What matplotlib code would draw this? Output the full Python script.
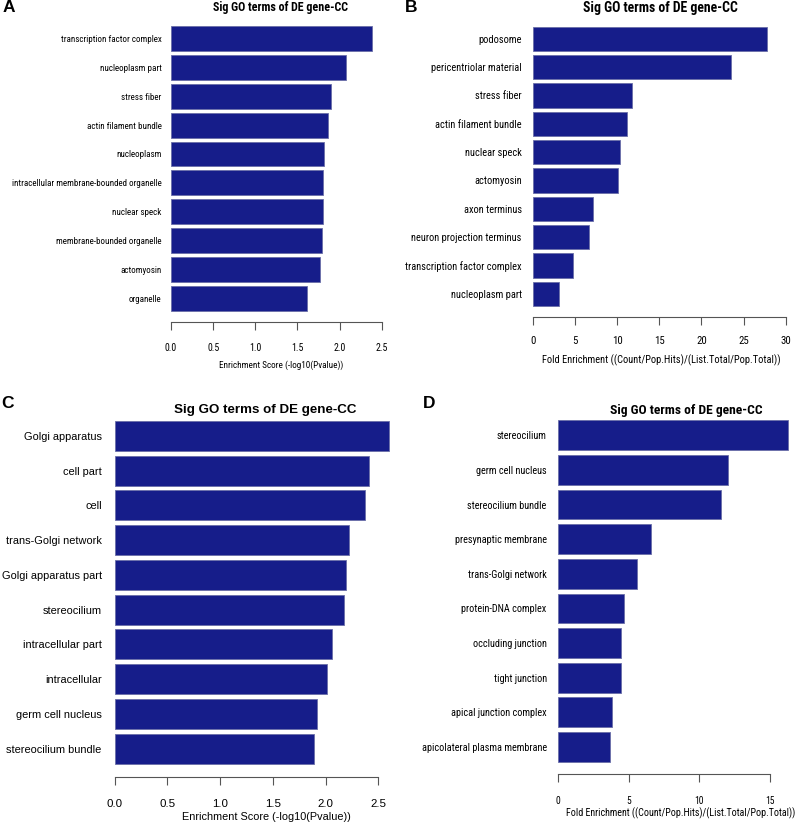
import matplotlib.pyplot as plt
from matplotlib import font_manager as fm

W, H = 800, 823

# Panel A
terms_a = ['transcription factor complex', 'nucleoplasm part', 'stress fiber', 'actin filament bundle',
           'nucleoplasm', 'intracellular membrane-bounded organelle', 'nuclear speck',
           'membrane-bounded organelle', 'actomyosin', 'organelle']
vals_a = [2.38, 2.08, 1.90, 1.86, 1.81, 1.80, 1.80, 1.79, 1.77, 1.61]
ticks_a = [0.0, 0.5, 1.0, 1.5, 2.0, 2.5]

# Panel B
terms_b = ['podosome', 'pericentriolar material', 'stress fiber', 'actin filament bundle', 'nuclear speck',
           'actomyosin', 'axon terminus', 'neuron projection terminus', 'transcription factor complex',
           'nucleoplasm part']
vals_b = [27.75, 23.55, 11.74, 11.15, 10.4, 10.08, 7.12, 6.64, 4.74, 3.08]
ticks_b = [0, 5, 10, 15, 20, 25, 30]

# Panel C
terms_c = ['Golgi apparatus', 'cell part', 'cell', 'trans-Golgi network', 'Golgi apparatus part',
           'stereocilium', 'intracellular part', 'intracellular', 'germ cell nucleus', 'stereocilium bundle']
vals_c = [2.60, 2.41, 2.37, 2.22, 2.19, 2.17, 2.06, 2.01, 1.92, 1.89]
ticks_c = [0.0, 0.5, 1.0, 1.5, 2.0, 2.5]

# Panel D
terms_d = ['stereocilium', 'germ cell nucleus', 'stereocilium bundle', 'presynaptic membrane',
           'trans-Golgi network', 'protein-DNA complex', 'occluding junction', 'tight junction',
           'apical junction complex', 'apicolateral plasma membrane']
vals_d = [16.27, 12.0, 11.51, 6.57, 5.58, 4.65, 4.44, 4.44, 3.78, 3.69]
ticks_d = [0, 5, 10, 15]

title = 'Sig GO terms of DE gene-CC'
xlab_es = 'Enrichment Score (-log10(Pvalue))'
xlab_fe = 'Fold Enrichment ((Count/Pop.Hits)/(List.Total/Pop.Total))'

BAR = '#161d8a'
EDGE = '#6a6fa8'
AXC = '#555555'


def is_bold(f):
    w = f.weight
    if isinstance(w, str):
        return 'bold' in w.lower() or 'black' in w.lower()
    return w >= 600


def find_file(names, bold, stretch=None):
    for nm in names:
        for f in fm.fontManager.ttflist:
            if f.name != nm or f.style != 'normal' or is_bold(f) != bold:
                continue
            if stretch is not None and str(f.stretch) != stretch:
                continue
            return f.fname
    return None


def narrow_file(bold):
    fn = find_file(['Liberation Sans Narrow', 'Roboto Condensed', 'Noto Sans Condensed',
                    'Open Sans Condensed'], bold)
    if fn is None:
        fn = find_file(['Noto Sans', 'Open Sans', 'Roboto'], bold, 'condensed')
    if fn is None:
        fn = find_file(['Liberation Sans'], bold)
    return fn


REG = find_file(['Liberation Sans'], False)
REG_B = find_file(['Liberation Sans'], True)
NAR = narrow_file(False) or REG
NAR_B = narrow_file(True) or REG_B

fig = plt.figure(figsize=(W / 100, H / 100), dpi=100)
renderer = fig.canvas.get_renderer()


def fit(fname, text, target_px):
    # font size whose rendered width matches the reference width
    t = fig.text(0, 0, text, fontproperties=fm.FontProperties(fname=fname, size=10))
    w = t.get_window_extent(renderer).width
    t.remove()
    return fm.FontProperties(fname=fname, size=10 * target_px / w)


def panel(terms, vals, ticks, x0, x1, ycen_first, ycen_last, axis_y, tick_lab_y, xlab_x, xlab_y,
          title_x, title_y, xlabel, f_lab, f_tick, f_title, f_xlab, gap):
    n = len(vals)
    ppu = (x1 - x0) / (ticks[-1] - ticks[0])
    xmax = max(ticks[-1], max(vals)) * 1.01
    right = x0 + xmax * ppu
    pitch = (ycen_last - ycen_first) / (n - 1)
    top = ycen_first - pitch / 2
    bot = ycen_last + pitch / 2
    ax = fig.add_axes([x0 / W, 1 - bot / H, (right - x0) / W, (bot - top) / H])
    pos = list(range(n))
    ax.barh(pos, vals, height=0.86, color=BAR, edgecolor=EDGE, linewidth=0.6)
    ax.set_xlim(0, xmax)
    ax.set_ylim(n - 0.5, -0.5)
    ax.set_yticks(pos)
    ax.set_yticklabels(terms, fontproperties=f_lab)
    ax.tick_params(axis='y', length=0, pad=gap * 0.72)
    for s in ['top', 'right', 'left']:
        ax.spines[s].set_visible(False)
    ax.spines['bottom'].set_position(('outward', (axis_y - bot) * 0.72))
    ax.spines['bottom'].set_bounds(ticks[0], ticks[-1])
    ax.spines['bottom'].set_color(AXC)
    ax.set_xticks(ticks)
    ax.set_xticklabels([('%.1f' % t) if isinstance(t, float) else str(t) for t in ticks],
                       fontproperties=f_tick)
    fs_tick = f_tick.get_size_in_points()
    ax.tick_params(axis='x', length=5.5, color=AXC, width=0.8,
                   pad=(tick_lab_y - axis_y - 5 - fs_tick * 0.7) * 0.72)
    fig.text(title_x / W, 1 - title_y / H, title, ha='center', va='center', fontproperties=f_title)
    fig.text(xlab_x / W, 1 - xlab_y / H, xlabel, ha='center', va='center', fontproperties=f_xlab)
    return ax


panel(terms_a, vals_a, ticks_a, 171, 381.7, 38.5, 298.3, 321.7, 345.7, 281, 365, 280.8, 8, xlab_es,
      fit(NAR, 'transcription factor complex', 100), fit(NAR, '2.5', 12.3),
      fit(NAR_B, title, 135), fit(NAR, xlab_es, 124), 9.3)
panel(terms_b, vals_b, ticks_b, 532.7, 785.7, 38.8, 293.8, 316.7, 339, 661, 360, 660.8, 8, xlab_fe,
      fit(NAR, 'transcription factor complex', 116), fit(NAR, '25', 10.7),
      fit(NAR_B, title, 155), fit(NAR, xlab_fe, 236.7), 11)
panel(terms_c, vals_c, ticks_c, 114.7, 378.3, 435.8, 748.7, 776.7, 801.7, 266, 816.7, 265, 410, xlab_es,
      fit(REG, 'trans-Golgi network', 96), fit(REG, '2.5', 16),
      fit(REG_B, title, 184), fit(REG, xlab_es, 168), 13)
panel(terms_d, vals_d, ticks_d, 558.3, 770, 435.3, 747, 774, 798, 681, 813, 686, 410, xlab_fe,
      fit(NAR, 'apicolateral plasma membrane', 125), fit(NAR, '15', 9.5),
      fit(NAR_B, title, 152), fit(NAR, xlab_fe, 228), 11.6)

for lab, x, y in [('A', 8.5, 8), ('B', 411, 7), ('C', 7.5, 404), ('D', 429, 404)]:
    fig.text(x / W, 1 - y / H, lab, ha='center', va='center',
             fontproperties=fm.FontProperties(fname=REG_B, size=12.5))

fig.savefig('out.png', dpi=100)
